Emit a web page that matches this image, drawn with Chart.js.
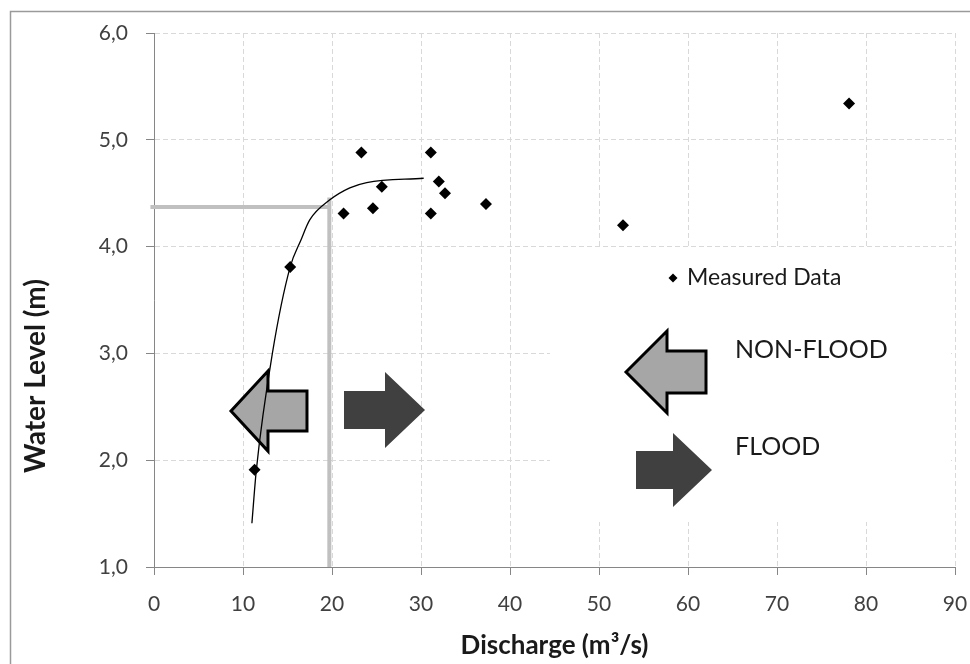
<!DOCTYPE html>
<html>
<head>
<meta charset="utf-8">
<script src="https://cdn.jsdelivr.net/npm/chart.js@4.4.1/dist/chart.umd.min.js"></script>
<style>
  html, body { margin: 0; padding: 0; background: #fff; }
  #wrap { width: 970px; height: 664px; }
</style>
</head>
<body>
<div id="wrap"><canvas id="rating" width="970" height="664"></canvas></div>
<script>
// measured discharge / water level pairs
const measuredQ = [11.3, 15.3, 21.3, 23.3, 24.6, 25.6, 31.1, 31.1, 32.0, 32.7, 37.3, 52.7, 78.1];
const measuredH = [1.91, 3.81, 4.31, 4.88, 4.36, 4.56, 4.88, 4.31, 4.61, 4.50, 4.40, 4.20, 5.34];

// fitted rating curve
const curveQ = [11.0, 11.5, 13.3, 15.3, 16.5, 17.5, 19.8, 22.0, 23.9, 30.3];
const curveH = [1.41, 1.91, 3.00, 3.81, 4.06, 4.25, 4.44, 4.55, 4.60, 4.64];

// flood threshold guide lines
const thresholdQ = 19.7;
const thresholdH = 4.37;

const xMin = 0, xMax = 90, xStep = 10;
const yMin = 1, yMax = 6, yStep = 1;

const FONT = 'Lato';

function toPoints(xs, ys) {
    return xs.map((x, i) => ({x: x, y: ys[i]}));
}

// block arrow: dir = -1 points left, 1 points right
function blockArrow(ctx, tipX, cy, dir, headLen, headHalf, shaftHalf, shaftLen, fill, stroke) {
    const bx = tipX - dir * headLen;
    const ex = bx - dir * shaftLen;
    ctx.save();
    ctx.beginPath();
    ctx.moveTo(tipX, cy);
    ctx.lineTo(bx, cy - headHalf);
    ctx.lineTo(bx, cy - shaftHalf);
    ctx.lineTo(ex, cy - shaftHalf);
    ctx.lineTo(ex, cy + shaftHalf);
    ctx.lineTo(bx, cy + shaftHalf);
    ctx.lineTo(bx, cy + headHalf);
    ctx.closePath();
    ctx.fillStyle = fill;
    ctx.fill();
    if (stroke) {
        ctx.lineJoin = 'miter';
        ctx.lineWidth = 3;
        ctx.strokeStyle = stroke;
        ctx.stroke();
    }
    ctx.restore();
}

const decorPlugin = {
    id: 'decor',
    beforeDraw(chart) {
        const ctx = chart.ctx;
        ctx.save();
        ctx.strokeStyle = '#9a9a9a';
        ctx.lineWidth = 1.5;
        ctx.strokeRect(10.5, 11.5, 980, 680);
        ctx.restore();
    },
    beforeDatasetsDraw(chart) {
        const ctx = chart.ctx;
        const xs = chart.scales.x, ys = chart.scales.y;
        // legend box hides the grid
        ctx.save();
        ctx.fillStyle = '#fff';
        ctx.fillRect(550, 248, 401, 274);
        ctx.restore();
        // arrows inside the plot
        blockArrow(ctx, xs.getPixelForValue(8.65), ys.getPixelForValue(2.46), -1, 37, 40, 20, 39, '#a6a6a6', '#000');
        blockArrow(ctx, xs.getPixelForValue(30.45), ys.getPixelForValue(2.47), 1, 40, 38, 19, 41, '#404040', null);
    },
    afterDatasetsDraw(chart) {
        const ctx = chart.ctx;
        // legend
        ctx.save();
        ctx.fillStyle = '#000';
        ctx.beginPath();
        ctx.moveTo(673, 273.5);
        ctx.lineTo(677.5, 278);
        ctx.lineTo(673, 282.5);
        ctx.lineTo(668.5, 278);
        ctx.closePath();
        ctx.fill();
        ctx.fillStyle = '#1a1a1a';
        ctx.textBaseline = 'middle';
        ctx.textAlign = 'left';
        ctx.font = '23px ' + FONT;
        ctx.fillText('Measured Data', 687, 278);
        ctx.font = '25px ' + FONT;
        ctx.fillText('NON-FLOOD', 735, 350);
        ctx.fillText('FLOOD', 735, 447);
        ctx.restore();
        blockArrow(ctx, 626, 372, -1, 41, 41, 21, 39, '#a6a6a6', '#000');
        blockArrow(ctx, 712, 470, 1, 39, 37, 19, 37, '#404040', null);
        // y axis title (placed lower than centre, as in the original)
        ctx.save();
        ctx.translate(36, 376);
        ctx.rotate(-Math.PI / 2);
        ctx.fillStyle = '#1a1a1a';
        ctx.font = 'bold 28px ' + FONT;
        ctx.textAlign = 'center';
        ctx.textBaseline = 'middle';
        ctx.fillText('Water Level (m)', 0, 0);
        ctx.restore();
    }
};

const ctx = document.getElementById('rating');
const chart = new Chart(ctx, {
    type: 'scatter',
    data: {
        datasets: [
            {
                label: 'Measured Data',
                data: toPoints(measuredQ, measuredH),
                pointStyle: 'rectRot',
                pointRadius: 6,
                pointHoverRadius: 6,
                backgroundColor: '#000',
                borderColor: '#000',
                borderWidth: 0,
                order: 0
            },
            {
                label: 'Rating curve',
                data: toPoints(curveQ, curveH),
                showLine: true,
                borderColor: '#000',
                borderWidth: 1.3,
                pointRadius: 0,
                cubicInterpolationMode: 'monotone',
                order: 1
            },
            {
                label: 'H threshold',
                data: [{x: -0.4, y: thresholdH}, {x: thresholdQ + 0.15, y: thresholdH}],
                showLine: true,
                borderColor: '#c0c0c0',
                borderWidth: 4,
                pointRadius: 0,
                clip: false,
                order: 2
            },
            {
                label: 'Q threshold',
                data: [{x: thresholdQ, y: 4.46}, {x: thresholdQ, y: yMin}],
                showLine: true,
                borderColor: '#c0c0c0',
                borderWidth: 4,
                pointRadius: 0,
                order: 2
            }
        ]
    },
    options: {
        responsive: false,
        animation: false,
        events: [],
        layout: {
            padding: {left: 10, top: 33, right: 0, bottom: 0}
        },
        scales: {
            x: {
                type: 'linear',
                min: xMin,
                max: xMax,
                ticks: {
                    stepSize: xStep,
                    color: '#404040',
                    font: {family: FONT, size: 21},
                    padding: 17
                },
                grid: {
                    color: '#d9d9d9',
                    tickColor: '#868686',
                    tickLength: 8
                },
                border: {color: '#868686', width: 1, dash: [5, 3]},
                title: {
                    display: true,
                    text: 'Discharge (m³/s)',
                    color: '#1a1a1a',
                    font: {family: FONT, size: 26, weight: 'bold'},
                    padding: {top: 0, bottom: 3}
                },
                afterFit(scale) {
                    scale.height = 97;
                    scale.paddingLeft = 0;
                    scale.paddingRight = 15;
                }
            },
            y: {
                type: 'linear',
                min: yMin,
                max: yMax,
                ticks: {
                    stepSize: yStep,
                    color: '#404040',
                    font: {family: FONT, size: 21},
                    padding: 18,
                    callback: v => v.toFixed(1).replace('.', ',')
                },
                grid: {
                    color: '#d9d9d9',
                    tickColor: '#868686',
                    tickLength: 8
                },
                border: {color: '#868686', width: 1, dash: [5, 3]},
                afterFit(scale) { scale.width = 144; }
            }
        },
        plugins: {
            legend: {display: false},
            tooltip: {enabled: false}
        }
    },
    plugins: [decorPlugin]
});
</script>
</body>
</html>
